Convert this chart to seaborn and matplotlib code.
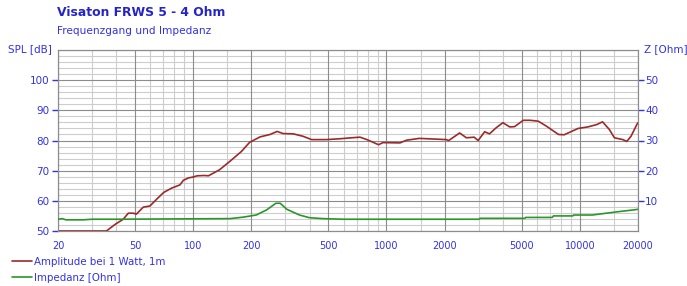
import matplotlib
matplotlib.use("Agg")
import matplotlib.pyplot as plt
import seaborn as sns
import pandas as pd
from matplotlib.ticker import FixedLocator, NullFormatter, FixedFormatter

# ---- data ----
spl_freq = [20, 35.6, 39.5, 43.5, 46.2, 49, 50.9, 55.2, 59.8, 64.9, 70.5, 77.3, 85.5, 89, 94.6,
            100, 105, 114, 120, 137, 155, 178, 196, 222, 250, 272, 292, 330, 370, 410, 490,
            580, 660, 730, 792, 910, 958, 1174, 1270, 1480, 2035, 2100, 2390, 2590, 2840,
            2980, 3220, 3410, 3690, 4000, 4340, 4600, 5100, 5530, 6100, 6700, 7760, 8300,
            9800, 11000, 12270, 13100, 14200, 15100, 16700, 17500, 18400, 19800, 20000]
spl_db = [50.0, 50.0, 52.2, 53.9, 55.9, 55.9, 55.6, 57.9, 58.3, 60.6, 62.8, 64.2, 65.3, 66.8, 67.6,
          67.9, 68.3, 68.4, 68.3, 70.3, 73.1, 76.4, 79.4, 81.2, 82.0, 83.0, 82.3, 82.2, 81.4, 80.3, 80.3,
          80.6, 80.9, 81.1, 80.3, 78.6, 79.3, 79.2, 80.1, 80.7, 80.3, 80.0, 82.5, 80.9, 81.1,
          80.0, 82.9, 82.2, 84.2, 85.9, 84.5, 84.6, 86.7, 86.7, 86.4, 84.8, 82.0, 81.9,
          84.0, 84.5, 85.3, 86.2, 83.7, 80.9, 80.3, 79.7, 81.4, 85.5, 85.9]

z_freq = [20, 21, 22, 27, 30, 40, 155, 182, 212, 240, 268, 282, 305, 355, 400, 470, 600,
          3000, 3050, 5200, 5250, 7200, 7300, 9200, 9300, 11600, 13700, 15800, 19000, 20000]
z_ohm = [3.9, 4.1, 3.7, 3.7, 3.9, 3.9, 4.1, 4.6, 5.3, 7.0, 9.2, 9.2, 7.2, 5.3, 4.4, 4.1, 3.9,
         3.9, 4.2, 4.2, 4.5, 4.5, 5.0, 5.0, 5.3, 5.3, 5.9, 6.4, 7.0, 7.2]

x_ticks = [20, 50, 100, 200, 500, 1000, 2000, 5000, 10000, 20000]
x_minor = [30, 40, 60, 70, 80, 90, 150, 300, 400, 600, 700, 800, 900, 1500, 3000, 4000,
           6000, 7000, 8000, 9000, 15000]
spl_ticks = [50, 60, 70, 80, 90, 100]
z_ticks = [10, 20, 30, 40, 50]

title = "Visaton FRWS 5 - 4 Ohm"
subtitle = "Frequenzgang und Impedanz"
spl_label = "Amplitude bei 1 Watt, 1m"
z_label = "Impedanz [Ohm]"

# ---- style ----
sns.set_theme(style="white")
plt.rcParams["font.family"] = ["DejaVu Sans"]

BLUE = "#3232e6"
TITLE_BLUE = "#2424c8"
RED = "#9b2a2a"
GREEN = "#2a962a"
MAJ = "#8c8c8c"
MIN = "#cdcdcd"

W, H = 687, 286
fig = plt.figure(figsize=(W / 100, H / 100), dpi=100)
fig.patch.set_facecolor("white")
L, R, T, B = 58, 638, 50, 231
ax = fig.add_axes([L / W, 1 - B / H, (R - L) / W, (B - T) / H])
ax.set_facecolor("white")

ax.set_xscale("log")
ax.set_xlim(20, 20000)
ax.set_ylim(50, 110)

# grid
ax.xaxis.set_major_locator(FixedLocator(x_ticks))
ax.xaxis.set_major_formatter(FixedFormatter([str(t) for t in x_ticks]))
ax.xaxis.set_minor_locator(FixedLocator(x_minor))
ax.xaxis.set_minor_formatter(NullFormatter())
ax.yaxis.set_major_locator(FixedLocator(spl_ticks))
ax.yaxis.set_minor_locator(FixedLocator(list(range(50, 111, 2))))

for f in x_minor:
    ax.axvline(f, color=MIN, lw=0.8, zorder=0)
for f in x_ticks:
    ax.axvline(f, color=MAJ, lw=0.8, zorder=0.5)
for v in range(50, 111, 2):
    ax.axhline(v, color=MAJ if v % 10 == 0 else MIN, lw=0.8, zorder=0.5 if v % 10 == 0 else 0)

df_spl = pd.DataFrame({"f": spl_freq, "v": spl_db})
df_z = pd.DataFrame({"f": z_freq, "v": z_ohm})
sns.lineplot(data=df_spl, x="f", y="v", ax=ax, color=RED, lw=1.2, label=spl_label, legend=False, zorder=3)

ax2 = ax.twinx()
ax2.set_ylim(0, 60)
sns.lineplot(data=df_z, x="f", y="v", ax=ax2, color=GREEN, lw=1.2, label=z_label, legend=False, zorder=3)
ax2.set_xlim(20, 20000)
ax2.set_yticks(z_ticks)
ax2.set_yticklabels([str(t) for t in z_ticks])

for a in (ax, ax2):
    a.set_xlabel("")
    a.set_ylabel("")
    for s in a.spines.values():
        s.set_color(MAJ)
        s.set_linewidth(0.8)

ax.tick_params(axis="x", which="major", direction="out", length=4, width=1, color=BLUE,
               labelcolor=BLUE, labelsize=7, pad=3)
ax.tick_params(axis="x", which="minor", length=0)
ax.tick_params(axis="y", which="major", direction="out", length=4, width=1, color=BLUE,
               labelcolor=BLUE, labelsize=7.5, pad=2, left=True)
ax.tick_params(axis="y", which="minor", length=0)
ax2.tick_params(axis="y", which="major", direction="out", length=4, width=1, color=BLUE,
                labelcolor=BLUE, labelsize=7.5, pad=1, right=True)
ax2.tick_params(axis="y", which="minor", length=0)

# texts
def fx(x):
    return x / W

def fy(y):
    return 1 - y / H

fig.text(fx(57), fy(12), title, color=TITLE_BLUE, fontsize=8.9, fontweight="bold", va="center", ha="left")
fig.text(fx(57), fy(31), subtitle, color=BLUE, fontsize=7.6, va="center", ha="left")
fig.text(fx(52), fy(49), "SPL [dB]", color=BLUE, fontsize=7.5, va="center", ha="right")
fig.text(fx(644), fy(49), "Z [Ohm]", color=BLUE, fontsize=7.5, va="center", ha="left")

h1, l1 = ax.get_legend_handles_labels()
h2, l2 = ax2.get_legend_handles_labels()
leg = fig.legend(h1 + h2, l1 + l2, loc="upper left", bbox_to_anchor=(fx(12), fy(257)),
                 frameon=False, fontsize=7.4, handlelength=1.95, handletextpad=0.22,
                 labelspacing=0.55, borderaxespad=0, borderpad=0)
for t in leg.get_texts():
    t.set_color(BLUE)

fig.savefig("out.png", dpi=100, facecolor="white")
